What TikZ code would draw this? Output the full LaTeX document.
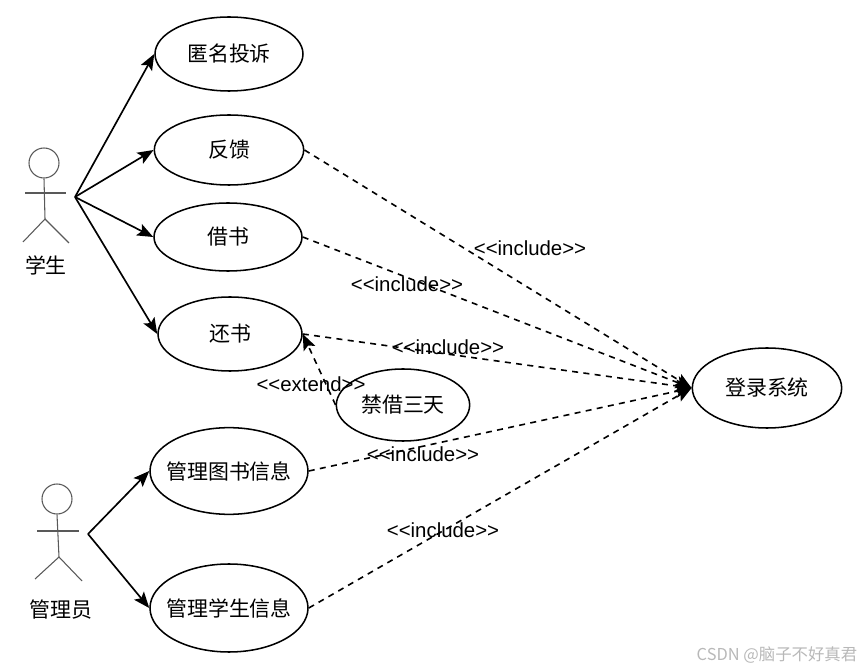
\documentclass[tikz,border=0pt]{standalone}
\usepackage{fontspec}
\newfontfamily\cjk{Noto Sans CJK SC}
\newfontfamily\lab{Liberation Sans}
\usetikzlibrary{shapes.geometric, arrows.meta}

\begin{document}
\begin{tikzpicture}[x=0.75pt, y=-0.75pt, >={Stealth[length=12pt,width=9.5pt,inset=2.5pt]},
    uc/.style={draw, ellipse, line width=1.15pt, inner sep=0pt, font=\fontsize{15.7}{18}\selectfont\cjk},
    assoc/.style={->, line width=1.25pt},
    dep/.style={->, line width=1.2pt, dash pattern=on 4.5pt off 4pt},
    tag/.style={inner sep=0pt, font=\fontsize{15.3}{18}\selectfont\lab},
    who/.style={inner sep=0pt, font=\fontsize{15.7}{18}\selectfont\cjk},
    stick/.style={draw=black!65, line width=0.8pt}
]
    \useasboundingbox (0,0) rectangle (865,670);
    % use cases
    \node[uc, minimum width=111pt, minimum height=55.5pt] (anon) at (229,54) {匿名投诉};
    \node[uc, minimum width=112pt, minimum height=52.5pt] (fb) at (229,150) {反馈};
    \node[uc, minimum width=111pt, minimum height=51pt] (borrow) at (228,237) {借书};
    \node[uc, minimum width=108pt, minimum height=55.5pt] (back) at (230,334) {还书};
    \node[uc, minimum width=100pt, minimum height=54pt] (ban) at (403,405) {禁借三天};
    \node[uc, inner xsep=-6pt, minimum width=118.5pt, minimum height=65pt] (book) at (229,471) {管理图书信息};
    \node[uc, inner xsep=-6pt, minimum width=118.5pt, minimum height=66pt] (stu) at (229,608) {管理学生信息};
    \node[uc, minimum width=112pt, minimum height=60pt] (login) at (767,388) {登录系统};
    % actors
    \node[stick, circle, draw, inner sep=0pt, minimum size=22.5pt] (head1) at (44,163) {};
    \draw[stick] (head1.south) -- (45,219) -- (23,242);
    \draw[stick] (45,219) -- (69,243);
    \draw[stick] (25,193) -- (66,193);
    \node[who] (name1) at (46,265) {学生};
    \node[stick, circle, draw, inner sep=0pt, minimum size=22.5pt] (head2) at (57,499) {};
    \draw[stick] (head2.south) -- (59,557) -- (35,579);
    \draw[stick] (59,557) -- (82,581);
    \draw[stick] (37,531) -- (79,531);
    \node[who] (name2) at (61,610) {管理员};
    \coordinate (from1) at (75,197);
    \coordinate (from2) at (88,534);
    % associations
    \draw[assoc] (from1) -- (anon.west);
    \draw[assoc] (from1) -- (fb.west);
    \draw[assoc] (from1) -- (borrow.west);
    \draw[assoc] (from1) -- (back.west);
    \draw[assoc] (from2) -- (book.west);
    \draw[assoc] (from2) -- (stu.west);
    % dependencies
    \draw[dep] (fb.east) -- (login.west);
    \draw[dep] (borrow.east) -- (login.west);
    \draw[dep] (back.east) -- (login.west);
    \draw[dep] (book.east) -- (login.west);
    \draw[dep] (stu.east) -- (login.west);
    \draw[dep] (ban.west) -- (back.east);
    \node[tag] (inc1) at (530,248) {<<include>>};
    \node[tag] (inc2) at (407,284) {<<include>>};
    \node[tag] (inc3) at (448,347) {<<include>>};
    \node[tag] (inc4) at (423,454) {<<include>>};
    \node[tag] (inc5) at (443,530) {<<include>>};
    \node[tag] (ext) at (311,384) {<<extend>>};
    \node[inner sep=0pt, text=black!28, font=\fontsize{12.3}{14}\selectfont\cjk] (mark) at (777,655) {CSDN @脑子不好真君};
\end{tikzpicture}
\end{document}
